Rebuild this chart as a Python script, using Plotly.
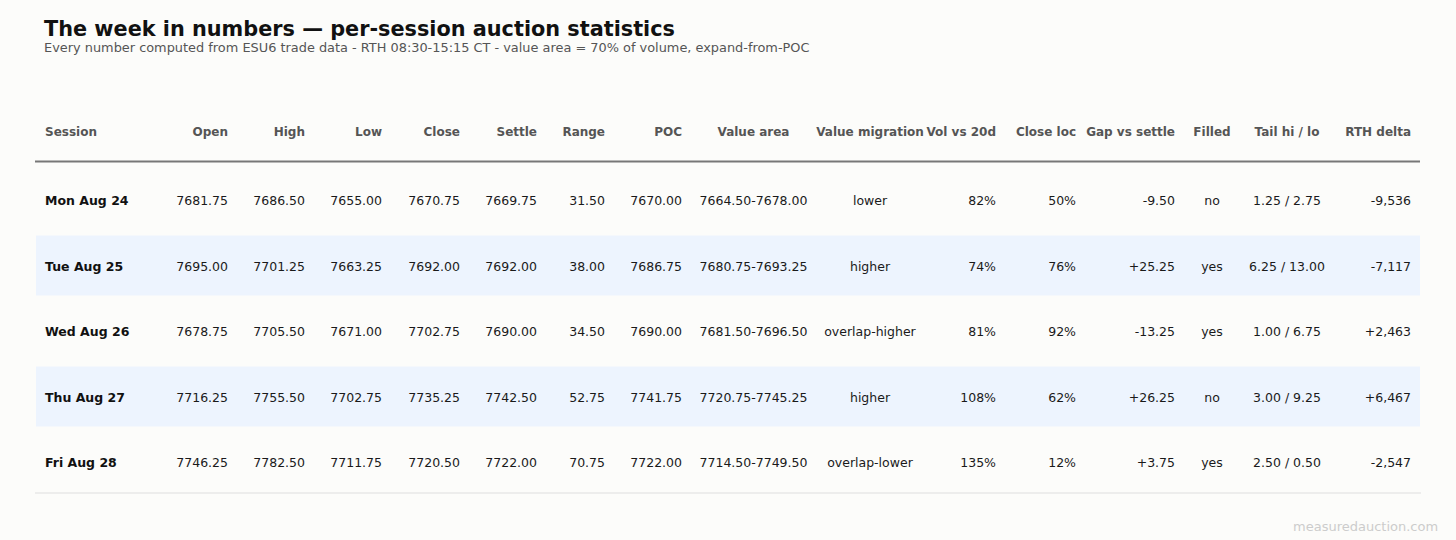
import plotly.graph_objects as go

# ---- data ----
sessions = ["Mon Aug 24", "Tue Aug 25", "Wed Aug 26", "Thu Aug 27", "Fri Aug 28"]
open_px = [7681.75, 7695.00, 7678.75, 7716.25, 7746.25]
high_px = [7686.50, 7701.25, 7705.50, 7755.50, 7782.50]
low_px = [7655.00, 7663.25, 7671.00, 7702.75, 7711.75]
close_px = [7670.75, 7692.00, 7702.75, 7735.25, 7720.50]
settle_px = [7669.75, 7692.00, 7690.00, 7742.50, 7722.00]
range_pts = [31.50, 38.00, 34.50, 52.75, 70.75]
poc_px = [7670.00, 7686.75, 7690.00, 7741.75, 7722.00]
va_low = [7664.50, 7680.75, 7681.50, 7720.75, 7714.50]
va_high = [7678.00, 7693.25, 7696.50, 7745.25, 7749.50]
value_migration = ["lower", "higher", "overlap-higher", "higher", "overlap-lower"]
vol_vs_20d = [82, 74, 81, 108, 135]
close_loc = [50, 76, 92, 62, 12]
gap_vs_settle = [-9.50, 25.25, -13.25, 26.25, 3.75]
filled = ["no", "yes", "yes", "no", "yes"]
tail_hi = [1.25, 6.25, 1.00, 3.00, 2.50]
tail_lo = [2.75, 13.00, 6.75, 9.25, 0.50]
rth_delta = [-9536, -7117, 2463, 6467, -2547]

headers = ["Session", "Open", "High", "Low", "Close", "Settle", "Range", "POC",
           "Value area", "Value migration", "Vol vs 20d", "Close loc",
           "Gap vs settle", "Filled", "Tail hi / lo", "RTH delta"]

f2 = lambda v: f"{v:.2f}"
columns = [
    sessions,
    [f2(v) for v in open_px],
    [f2(v) for v in high_px],
    [f2(v) for v in low_px],
    [f2(v) for v in close_px],
    [f2(v) for v in settle_px],
    [f2(v) for v in range_pts],
    [f2(v) for v in poc_px],
    [f"{a:.2f}-{b:.2f}" for a, b in zip(va_low, va_high)],
    value_migration,
    [f"{v}%" for v in vol_vs_20d],
    [f"{v}%" for v in close_loc],
    [f"{v:+.2f}" for v in gap_vs_settle],
    filled,
    [f"{a:.2f} / {b:.2f}" for a, b in zip(tail_hi, tail_lo)],
    [f"{v:+,}" for v in rth_delta],
]

# ---- layout (pixel-space anchors) ----
W, H = 1456, 540
BG = "#fcfcfa"
col_x = [45, 228, 305, 382, 460, 537, 605, 682, 753.5, 870, 996, 1076, 1175, 1212, 1287, 1411]
col_align = ["L", "R", "R", "R", "R", "R", "R", "R", "C", "C", "R", "R", "R", "C", "C", "R"]
pos_map = {"L": "middle right", "R": "middle left", "C": "middle center"}
text_dy = 2
header_y = 131
row_y0, row_step = 200, 65.5
row_y = [row_y0 + row_step * i for i in range(len(sessions))]

FONT = "DejaVu Sans"
fig = go.Figure()

# header
for j, h in enumerate(headers):
    fig.add_trace(go.Scatter(
        x=[col_x[j]], y=[header_y + text_dy], mode="text", text=[f"<b>{h}</b>"],
        textposition=pos_map[col_align[j]],
        textfont=dict(family=FONT, size=12, color="#555555"),
        hoverinfo="skip", showlegend=False))

# body
for j, col in enumerate(columns):
    txt = [f"<b>{t}</b>" for t in col] if j == 0 else col
    fig.add_trace(go.Scatter(
        x=[col_x[j]] * len(col), y=[y + text_dy for y in row_y], mode="text", text=txt,
        textposition=pos_map[col_align[j]],
        textfont=dict(family=FONT, size=12.5, color="#111111" if j == 0 else "#1a1a1a"),
        hoverinfo="skip", showlegend=False))

shapes = []
for i, y in enumerate(row_y):
    if i % 2 == 1:
        shapes.append(dict(type="rect", xref="x", yref="y", x0=36, x1=1420,
                           y0=y - 30, y1=y + 30, fillcolor="#edf4fe",
                           line=dict(width=0), layer="below"))
shapes.append(dict(type="line", xref="x", yref="y", x0=35, x1=1420, y0=161.5, y1=161.5,
                   line=dict(color="#777777", width=2)))
shapes.append(dict(type="line", xref="x", yref="y", x0=35, x1=1421, y0=493, y1=493,
                   line=dict(color="#dddddd", width=1.2)))

annotations = [
    dict(x=42, y=29, xref="x", yref="y", xanchor="left", yanchor="middle", showarrow=False,
         text="<b>The week in numbers — per-session auction statistics</b>",
         font=dict(family=FONT, size=20.8, color="#111111")),
    dict(x=42, y=47, xref="x", yref="y", xanchor="left", yanchor="middle", showarrow=False,
         text="Every number computed from ESU6 trade data - RTH 08:30-15:15 CT - value area = 70% of volume, expand-from-POC",
         font=dict(family=FONT, size=12.9, color="#555555")),
    dict(x=1440, y=526, xref="x", yref="y", xanchor="right", yanchor="middle", showarrow=False,
         text="measuredauction.com", font=dict(family=FONT, size=13, color="#cccccc")),
]

fig.update_layout(
    width=W, height=H, margin=dict(l=0, r=0, t=0, b=0),
    paper_bgcolor=BG, plot_bgcolor=BG,
    xaxis=dict(range=[0, W], visible=False, fixedrange=True),
    yaxis=dict(range=[H, 0], visible=False, fixedrange=True),
    shapes=shapes, annotations=annotations, showlegend=False,
)
fig.write_html(
    "out.html",
    config={"displayModeBar": False},
    post_script=f"document.body.style.margin='0';document.body.style.background='{BG}';document.body.style.overflow='hidden';",
)
